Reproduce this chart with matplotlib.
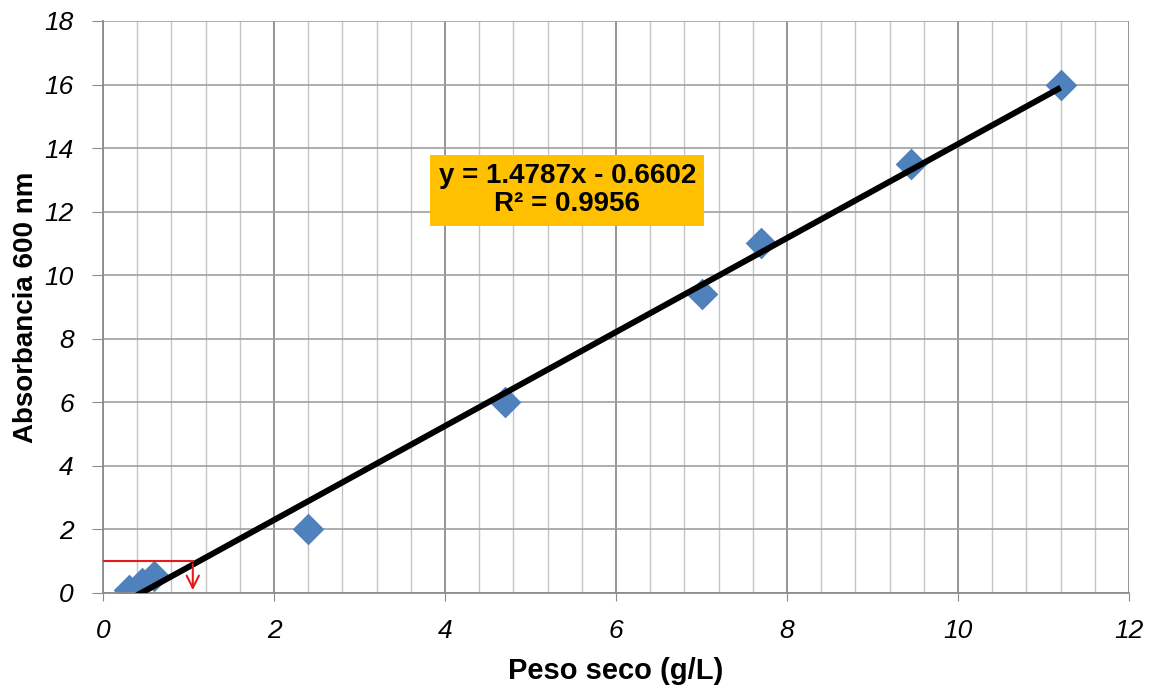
import numpy as np
import matplotlib.pyplot as plt

plt.rcParams['font.family'] = ['Liberation Sans', 'DejaVu Sans']

# data
peso_seco = [0.3, 0.45, 0.6, 2.4, 4.7, 7.0, 7.7, 9.45, 11.2]
absorbancia = [0.1, 0.3, 0.55, 2.0, 6.0, 9.4, 11.0, 13.5, 16.0]
slope = 1.4787
intercept = -0.6602
r2 = 0.9956

x_ticks = [0, 2, 4, 6, 8, 10, 12]
y_ticks = [0, 2, 4, 6, 8, 10, 12, 14, 16, 18]

fig = plt.figure(figsize=(11.55, 6.86), dpi=100)
ax = fig.add_axes([0.0892, 0.1356, 0.8883, 0.8338])

# gridlines: minor every 0.4 on x, major every 2
for xv in np.arange(0, 12.01, 0.4):
    major = abs(xv / 2 - round(xv / 2)) < 1e-6
    ax.axvline(xv, color='#8c8c8c' if major else '#c4c4c4', lw=1.3 if major else 1.0, zorder=0)
for yv in y_ticks:
    ax.axhline(yv, color='#a0a0a0', lw=1.2, zorder=0)

# trend line over the data range
xl = np.array([min(peso_seco), max(peso_seco)])
ax.plot(xl, slope * xl + intercept, color='black', lw=4.3, zorder=3, solid_capstyle='butt')

ax.scatter(peso_seco, absorbancia, marker='D', s=260, color='#4F81BD', zorder=2, linewidths=0)

# red marker line + arrow
ax.plot([0, 1.05], [1, 1], color='#e41a1c', lw=1.5, zorder=4)
ax.annotate('', xy=(1.05, 0), xytext=(1.05, 1),
            arrowprops=dict(arrowstyle='->', color='#e41a1c', lw=1.5, mutation_scale=22),
            zorder=4)

ax.text(5.43, 12.67, f'y = {slope}x - {abs(intercept)}\nR² = {r2}',
        ha='center', va='center', fontsize=20, fontweight='bold', linespacing=1.1,
        bbox=dict(boxstyle='square,pad=0.3', facecolor='#FFC000', edgecolor='none'),
        zorder=5)

ax.set_xlim(0, 12)
ax.set_ylim(0, 18)
ax.set_xticks(x_ticks)
ax.set_yticks(y_ticks)
ax.tick_params(axis='x', labelsize=19, length=6, color='#8c8c8c', pad=13)
ax.tick_params(axis='y', labelsize=19, length=8, color='#8c8c8c', pad=13)
for lab in ax.get_xticklabels() + ax.get_yticklabels():
    lab.set_fontstyle('italic')

for s in ['top', 'right']:
    ax.spines[s].set_visible(False)
for s in ['left', 'bottom']:
    ax.spines[s].set_color('#8c8c8c')
    ax.spines[s].set_linewidth(1.3)

ax.set_xlabel('Peso seco (g/L)', fontsize=21, fontweight='bold', labelpad=10)
ax.set_ylabel('Absorbancia 600 nm', fontsize=20, fontweight='bold', labelpad=4)

plt.savefig('out.png', dpi=100)
plt.close()
